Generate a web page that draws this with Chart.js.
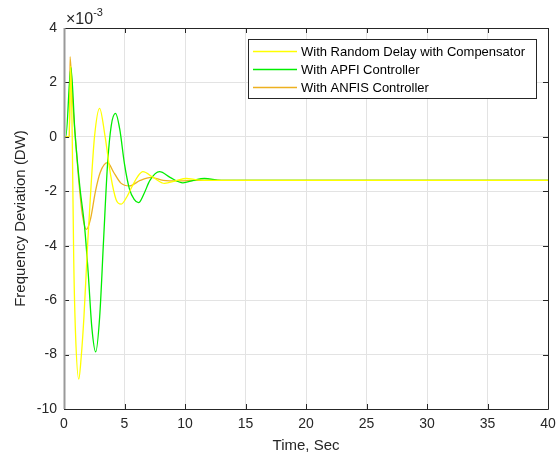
<!DOCTYPE html>
<html><head><meta charset="utf-8">
<script src="https://cdn.jsdelivr.net/npm/chart.js@4.4.0/dist/chart.umd.min.js"></script>
<style>html,body{margin:0;padding:0;background:#fff;}#wrap{width:560px;height:455px;}</style>
</head><body><div id="wrap"><canvas id="c" width="560" height="455"></canvas></div>
<script>
// Values in units of 1e-3
const seriesLabels = ['With Random Delay with Compensator', 'With APFI Controller', 'With ANFIS Controller'];
const seriesColors = ['#ffff00', '#00ee00', '#edb120'];

const tYellow = [0, 0.42, 0.55, 0.68, 0.8, 0.95, 1.22, 1.42, 1.65, 1.97, 2.25, 2.52, 2.94, 3.4, 3.85, 4.3, 4.73, 5.2, 5.65, 6.1, 6.52, 7.4, 8.31, 9.2, 10.1, 11, 12, 15, 20, 30, 40];
const vYellow = [0, 0, 2.6, 0, -4.4, -7.2, -8.9, -8.1, -6.6, -3.8, -1.7, 0, 1.05, 0, -1.4, -2.3, -2.47, -2.2, -1.8, -1.45, -1.28, -1.5, -1.71, -1.62, -1.53, -1.58, -1.6, -1.6, -1.6, -1.6, -1.6];

const tGreen = [0, 0.15, 0.57, 0.9, 1.3, 1.7, 2.0, 2.3, 2.62, 2.95, 3.27, 3.6, 3.9, 4.26, 4.6, 5.0, 5.4, 5.8, 6.16, 6.6, 7.1, 7.9, 8.8, 9.83, 10.7, 11.6, 13, 15, 20, 30, 40];
const vGreen = [0, 0, 2.55, 0.2, -1.8, -3.3, -5.0, -7.0, -7.9, -6.6, -3.8, -1.0, 0.4, 0.86, 0.3, -1.0, -1.9, -2.3, -2.42, -2.1, -1.6, -1.28, -1.5, -1.69, -1.6, -1.53, -1.6, -1.6, -1.6, -1.6, -1.6];

const tOrange = [0, 0.45, 0.5, 0.7, 0.9, 1.2, 1.5, 1.86, 2.2, 2.6, 3.0, 3.6, 4.1, 4.7, 5.42, 6.3, 7.2, 8.2, 9.5, 11, 15, 20, 30, 40];
const vOrange = [0, 0, 2.95, 1.4, 0.2, -1.5, -2.8, -3.4, -3.0, -2.0, -1.3, -0.95, -1.3, -1.7, -1.8, -1.6, -1.49, -1.6, -1.62, -1.6, -1.6, -1.6, -1.6, -1.6];

const xTicks = [0, 5, 10, 15, 20, 25, 30, 35, 40];
const yTicks = [-10, -8, -6, -4, -2, 0, 2, 4];

const FONT = '"Liberation Sans", Arial, Helvetica, sans-serif';
const TXT = '#262626';

function pts(t, v) { return t.map((x, i) => ({x: x, y: v[i]})); }

const datasets = [
  {label: seriesLabels[0], data: pts(tYellow, vYellow), borderColor: seriesColors[0]},
  {label: seriesLabels[1], data: pts(tGreen, vGreen), borderColor: seriesColors[1]},
  {label: seriesLabels[2], data: pts(tOrange, vOrange), borderColor: seriesColors[2]}
].map(d => Object.assign(d, {borderWidth: 1.3, pointRadius: 0, fill: false, cubicInterpolationMode: 'monotone'}));

const decor = {
  id: 'decor',
  afterDatasetsDraw(chart) {
    const ctx = chart.ctx, a = chart.chartArea;
    const xs = chart.scales.x, ys = chart.scales.y;
    ctx.save();
    // ticks inside
    ctx.strokeStyle = TXT; ctx.lineWidth = 1;
    ctx.beginPath();
    xTicks.forEach(v => {
      const px = Math.round(xs.getPixelForValue(v)) + 0.5;
      ctx.moveTo(px, a.bottom); ctx.lineTo(px, a.bottom - 5);
      ctx.moveTo(px, a.top); ctx.lineTo(px, a.top + 5);
    });
    yTicks.forEach(v => {
      const py = Math.round(ys.getPixelForValue(v)) + 0.5;
      ctx.moveTo(a.left, py); ctx.lineTo(a.left + 5, py);
      ctx.moveTo(a.right, py); ctx.lineTo(a.right - 5, py);
    });
    ctx.stroke();
    // box
    ctx.beginPath();
    ctx.moveTo(a.left, a.top + 0.5); ctx.lineTo(a.right + 0.5, a.top + 0.5);
    ctx.lineTo(a.right + 0.5, a.bottom + 0.5); ctx.lineTo(a.left, a.bottom + 0.5);
    ctx.stroke();
    ctx.strokeStyle = '#999999'; ctx.lineWidth = 2;
    ctx.beginPath(); ctx.moveTo(a.left + 0.5, a.top); ctx.lineTo(a.left + 0.5, a.bottom); ctx.stroke();
    // exponent
    ctx.fillStyle = TXT; ctx.textBaseline = 'alphabetic'; ctx.textAlign = 'left';
    ctx.font = '16px ' + FONT;
    ctx.fillText('\u00d710', a.left + 2, a.top - 4);
    const w = ctx.measureText('\u00d710').width;
    ctx.font = '11px ' + FONT;
    ctx.fillText('-3', a.left + 2 + w, a.top - 12);
    // legend
    const lx = a.right - 300, ly = a.top + 11, lw = 288, lh = 59;
    ctx.fillStyle = '#ffffff'; ctx.fillRect(lx, ly, lw, lh);
    ctx.strokeStyle = '#262626'; ctx.lineWidth = 1;
    ctx.strokeRect(lx + 0.5, ly + 0.5, lw, lh);
    ctx.font = '13px ' + FONT; ctx.textBaseline = 'middle';
    chart.data.datasets.forEach((d, i) => {
      const yy = ly + 12.5 + i * 18;
      ctx.strokeStyle = d.borderColor; ctx.lineWidth = 1.3;
      ctx.beginPath(); ctx.moveTo(lx + 5, yy); ctx.lineTo(lx + 49, yy); ctx.stroke();
      ctx.fillStyle = '#000';
      ctx.fillText(d.label, lx + 53, yy + 0.5);
    });
    ctx.restore();
  }
};

new Chart(document.getElementById('c'), {
  type: 'line',
  data: {datasets: datasets},
  options: {
    responsive: false, animation: false,
    layout: {padding: {top: 28, right: 12, left: 0, bottom: 0}},
    plugins: {legend: {display: false}, tooltip: {enabled: false}},
    scales: {
      x: {
        type: 'linear', min: 0, max: 40,
        afterBuildTicks: s => { s.ticks = xTicks.map(v => ({value: v})); },
        afterFit: s => { s.height = 46; s.paddingRight = 0; s.paddingLeft = 0; },
        grid: {color: '#e3e3e3', drawTicks: false, lineWidth: 1},
        border: {display: false},
        ticks: {padding: 7, color: TXT, font: {family: FONT, size: 14}, maxRotation: 0},
        title: {display: true, text: 'Time, Sec', color: TXT, font: {family: FONT, size: 15}, padding: {top: 0, bottom: 0}}
      },
      y: {
        type: 'linear', min: -10, max: 4,
        afterBuildTicks: s => { s.ticks = yTicks.map(v => ({value: v})); },
        afterFit: s => { s.width = 64; s.paddingTop = 0; s.paddingBottom = 0; },
        grid: {color: '#e3e3e3', drawTicks: false, lineWidth: 1},
        border: {display: false},
        ticks: {padding: 7, color: TXT, font: {family: FONT, size: 14}},
        title: {display: true, text: 'Frequency Deviation (DW)', color: TXT, font: {family: FONT, size: 15}, padding: {top: 12, bottom: 12}}
      }
    }
  },
  plugins: [decor]
});
</script></body></html>
